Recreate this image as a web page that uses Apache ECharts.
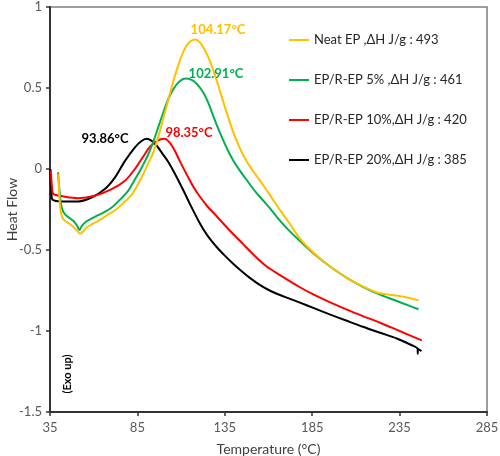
<!DOCTYPE html>
<html>
<head>
<meta charset="utf-8">
<script src="https://cdn.jsdelivr.net/npm/echarts@6/dist/echarts.min.js"></script>
<style>html,body{margin:0;padding:0;background:#fff;}#c{width:500px;height:456px;}</style>
</head>
<body>
<div id="c"></div>
<script>
// Series names (legend)
const seriesNames = [
  'Neat EP ,\u0394H J/g : 493',
  'EP/R-EP 5% ,\u0394H J/g : 461',
  'EP/R-EP 10%,\u0394H J/g : 420',
  'EP/R-EP 20%,\u0394H J/g : 385'
];
const seriesColors = ['#FFC000', '#00B050', '#FF0000', '#000000'];

// [Temperature (°C), Heat Flow]
const neatEP = [[39.8,-0.03],[40.3,-0.15],[41,-0.25],[42.6,-0.31],[46.4,-0.34],[50,-0.375],[52.2,-0.40],[54,-0.385],[56,-0.36],[59,-0.34],[62.6,-0.32],[67,-0.29],[72.2,-0.255],[77,-0.21],[81.7,-0.16],[85,-0.1],[88,-0.04],[91,0.03],[94,0.1],[97,0.2],[100,0.32],[103,0.44],[106,0.56],[109,0.66],[112,0.74],[115,0.785],[118,0.80],[120.5,0.785],[123,0.745],[126,0.68],[129,0.59],[132,0.49],[135,0.385],[138,0.285],[141,0.195],[144,0.12],[147.4,0.05],[152,-0.025],[157,-0.1],[162,-0.18],[167,-0.26],[172,-0.335],[178,-0.43],[185.6,-0.515],[195,-0.60],[204.8,-0.672],[214,-0.725],[221.9,-0.762],[226,-0.772],[231.5,-0.779],[238,-0.79],[245.8,-0.81]];
const rep5 = [[39.6,-0.02],[40.5,-0.14],[41.7,-0.238],[43.6,-0.28],[48.3,-0.32],[50.5,-0.35],[51.8,-0.377],[53,-0.355],[55,-0.33],[60.7,-0.295],[65.5,-0.27],[70.3,-0.238],[75,-0.19],[79.8,-0.134],[83,-0.075],[85.5,-0.03],[88,0.02],[91,0.085],[94,0.165],[97,0.26],[100,0.355],[103,0.44],[106,0.5],[109,0.54],[112.5,0.558],[116,0.55],[119,0.525],[122.6,0.474],[125.5,0.41],[128.3,0.33],[131,0.255],[134,0.18],[137,0.11],[140,0.05],[143.6,-0.01],[147,-0.06],[150,-0.105],[153.3,-0.15],[157,-0.195],[161,-0.245],[164.7,-0.295],[170,-0.36],[178,-0.445],[185.6,-0.52],[195,-0.60],[204.8,-0.672],[214,-0.727],[221.9,-0.767],[228,-0.793],[233.4,-0.815],[240,-0.842],[245.8,-0.866]];
const rep10 = [[35.5,-0.01],[36.2,-0.12],[37,-0.155],[43.6,-0.171],[51.2,-0.18],[60.7,-0.165],[70.3,-0.124],[77.9,-0.072],[83.6,0.0],[89.3,0.093],[92,0.135],[94.5,0.16],[97,0.177],[99,0.185],[100.7,0.187],[102.7,0.172],[104.7,0.145],[107,0.1],[109.2,0.05],[114,-0.05],[117,-0.11],[120.7,-0.17],[125,-0.23],[130.2,-0.29],[137,-0.37],[145.5,-0.464],[152,-0.535],[158.8,-0.6],[166.6,-0.655],[178,-0.73],[185.6,-0.774],[195,-0.822],[204.8,-0.868],[214,-0.908],[223.9,-0.949],[235,-1.0],[247.7,-1.058]];
const rep20 = [[35.2,0.0],[35.8,-0.15],[36.5,-0.19],[41.7,-0.20],[51.2,-0.20],[58.8,-0.176],[66.4,-0.124],[72.2,-0.052],[77.9,0.05],[83.6,0.134],[87,0.17],[90.3,0.186],[93,0.175],[96,0.145],[99,0.1],[102.6,0.045],[106,-0.02],[111.2,-0.13],[115,-0.215],[120.7,-0.335],[125,-0.41],[130.2,-0.48],[135,-0.535],[139.8,-0.585],[144.5,-0.63],[149.3,-0.672],[155,-0.715],[160.7,-0.75],[166.6,-0.778],[172,-0.80],[178,-0.825],[185.6,-0.857],[195,-0.897],[204.8,-0.937],[214,-0.974],[223.9,-1.011],[233.4,-1.046],[242,-1.088],[245.3,-1.11],[245.4,-1.14],[245.5,-1.11],[247.5,-1.125]];

// Peak annotations
const peakLabels = ['104.17\u00B0C', '102.91\u00B0C', '98.35\u00B0C', '93.86\u00B0C'];

const xTicks = { min: 35, max: 285, interval: 50 };
const yTicks = { min: -1.5, max: 1, interval: 0.5 };

const FONT = 'Lato';
const allData = [neatEP, rep5, rep10, rep20];

const chart = echarts.init(document.getElementById('c'), null, { renderer: 'canvas' });
const labelPos = [[218, 30], [216, 74], [189, 133], [105, 139]];

chart.setOption({
  animation: false,
  backgroundColor: '#ffffff',
  grid: { left: 50, right: 13, top: 7, bottom: 44, containLabel: false, outerBoundsMode: 'none',
          show: true, borderColor: '#7f7f7f', borderWidth: 1.5 },
  legend: {
    orient: 'vertical', left: 284, top: 28, itemGap: 26,
    icon: 'rect', itemWidth: 20, itemHeight: 2,
    textStyle: { fontFamily: FONT, fontSize: 13, color: '#262626', lineHeight: 14 },
    data: seriesNames
  },
  xAxis: {
    type: 'value', min: xTicks.min, max: xTicks.max, interval: xTicks.interval,
    name: 'Temperature (\u00B0C)', nameLocation: 'middle', nameGap: 30, nameMoveOverlap: false,
    nameTextStyle: { fontFamily: FONT, fontSize: 14, color: '#404040' },
    axisLine: { onZero: false, lineStyle: { color: '#333', width: 2 } },
    axisTick: { length: 4, lineStyle: { color: '#333', width: 1.5 } },
    axisLabel: { fontFamily: FONT, fontSize: 13, color: '#595959', margin: 9 },
    splitLine: { show: false }
  },
  yAxis: {
    type: 'value', min: yTicks.min, max: yTicks.max, interval: yTicks.interval,
    name: 'Heat Flow', nameLocation: 'middle', nameGap: 31, nameRotate: 90, nameMoveOverlap: false,
    nameTextStyle: { fontFamily: FONT, fontSize: 14, color: '#404040' },
    axisLine: { onZero: false, lineStyle: { color: '#333', width: 2 } },
    axisTick: { show: true, length: 4, lineStyle: { color: '#333', width: 1.5 } },
    axisLabel: { fontFamily: FONT, fontSize: 13, color: '#595959', margin: 8 },
    splitLine: { show: false }
  },
  series: allData.map((d, i) => ({
    name: seriesNames[i], type: 'line', data: d, showSymbol: false,
    smooth: 0.3,
    lineStyle: { color: seriesColors[i], width: 2 }, itemStyle: { color: seriesColors[i] },
    z: 10 - i
  })),
  graphic: peakLabels.map((t, i) => ({
    type: 'text', x: labelPos[i][0], y: labelPos[i][1], z: 100,
    style: { text: t, fill: seriesColors[i], font: 'bold 13px ' + FONT, align: 'center', verticalAlign: 'middle' }
  })).concat([{
    type: 'text', x: 67, y: 374, rotation: Math.PI / 2, z: 100,
    style: { text: '(Exo up)', fill: '#000', font: 'bold 11px ' + FONT, align: 'center', verticalAlign: 'middle' }
  }])
});
</script>
</body>
</html>
